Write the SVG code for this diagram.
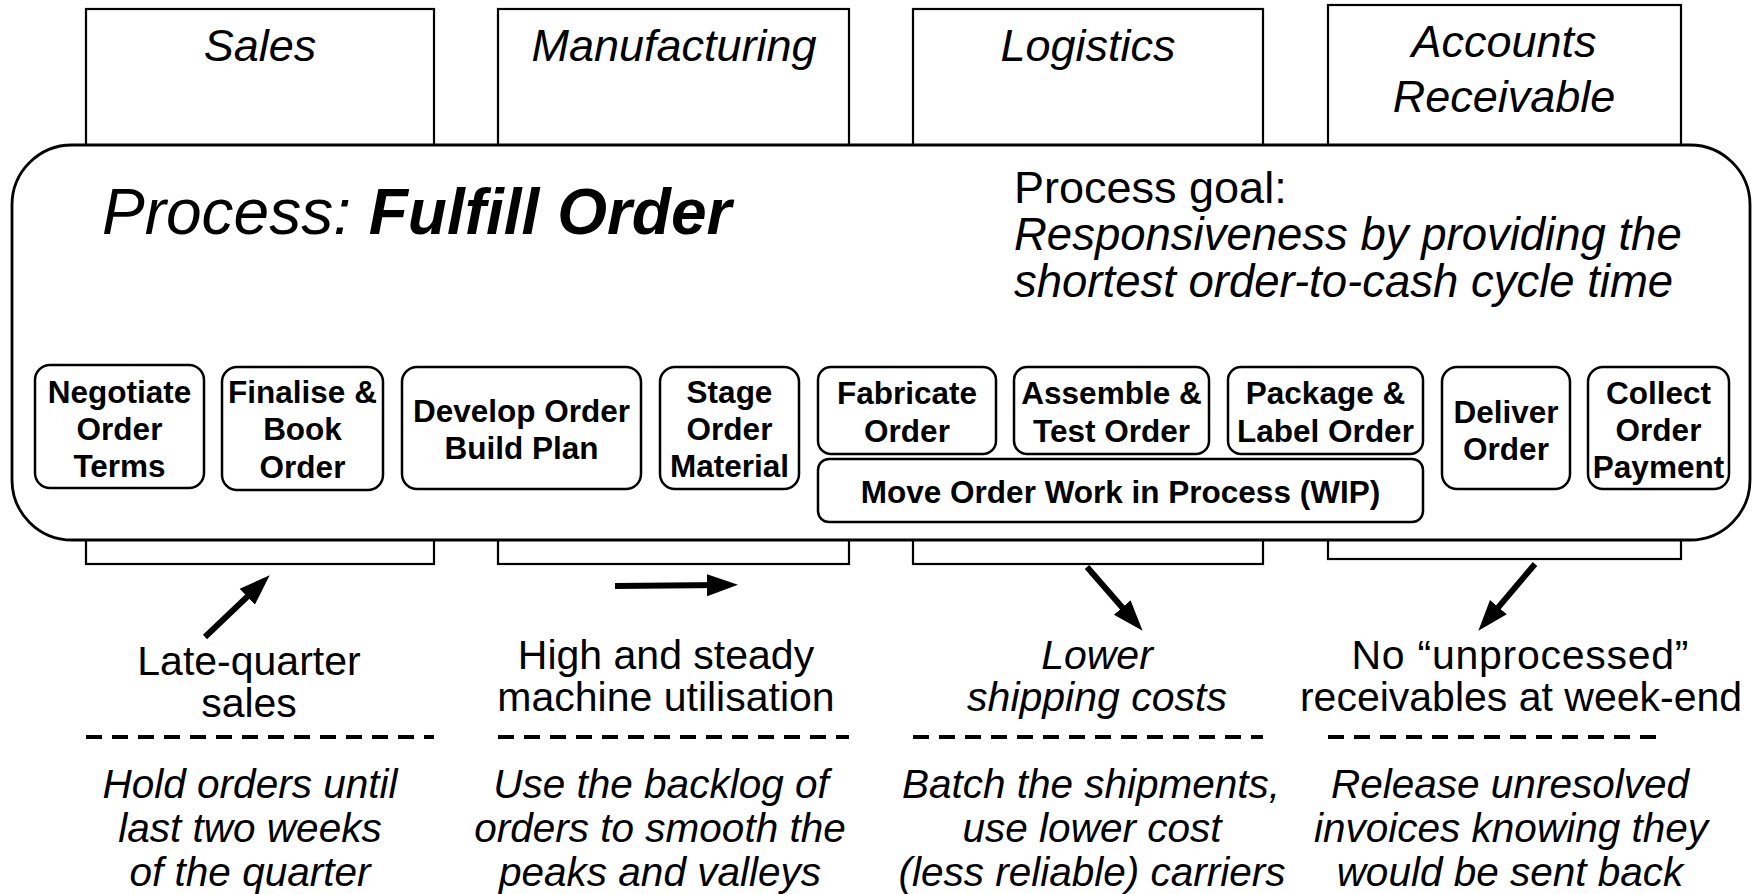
<svg xmlns="http://www.w3.org/2000/svg" width="1753" height="894" viewBox="0 0 1753 894">
<style>
text{font-family:"Liberation Sans",Arial,sans-serif;fill:#000}
.hdr{fill:#fff;stroke:#000;stroke-width:2.2}
.ht{font-size:45px;font-style:italic;text-anchor:middle}
.main{fill:#fff;stroke:#000;stroke-width:2.8}
.pb{fill:#fff;stroke:#000;stroke-width:2.5}
.pt{font-size:31.5px;font-weight:bold;text-anchor:middle}
.lbl{font-size:41px;text-anchor:middle}
.it{font-style:italic}
.act{font-size:40.5px;font-style:italic;text-anchor:middle}
.dash{stroke:#000;stroke-width:4;stroke-dasharray:16 10}
.arr{stroke:#000;stroke-width:6;fill:none;marker-end:url(#ah)}
</style>
<defs>
<marker id="ah" markerUnits="userSpaceOnUse" markerWidth="32" markerHeight="24" viewBox="0 0 32 24" refX="15" refY="12" orient="auto">
<path d="M0,1 L31,12 L0,23 z" fill="#000"/>
</marker>
</defs>
<g id="lane-sales"><rect class="hdr" x="86" y="9" width="348" height="555"/><text class="ht" x="260" y="61">Sales</text></g>
<g id="lane-manufacturing"><rect class="hdr" x="498" y="9" width="351" height="555"/><text class="ht" x="674" y="61">Manufacturing</text></g>
<g id="lane-logistics"><rect class="hdr" x="913" y="9" width="350" height="555"/><text class="ht" x="1088" y="61">Logistics</text></g>
<g id="lane-ar"><rect class="hdr" x="1328" y="5" width="353" height="554"/><text class="ht" x="1504" y="57">Accounts</text><text class="ht" x="1504" y="112">Receivable</text></g>
<g id="process">
<rect class="main" x="12" y="145" width="1738" height="395" rx="60" ry="60"/>
<text x="102" y="234" font-size="64" font-style="italic">Process: <tspan font-weight="bold">Fulfill Order</tspan></text>
<text x="1014" y="203" font-size="45">Process goal:</text>
<text x="1014" y="250" font-size="45.5" font-style="italic">Responsiveness by providing the</text>
<text x="1014" y="297" font-size="45.5" font-style="italic">shortest order-to-cash cycle time</text>
</g>
<g id="negotiate"><rect class="pb" x="35" y="365" width="169" height="123" rx="15"/><text class="pt" x="119.5" y="403">Negotiate</text><text class="pt" x="119.5" y="440">Order</text><text class="pt" x="119.5" y="477">Terms</text></g>
<g id="finalise"><rect class="pb" x="222" y="367" width="161" height="123" rx="15"/><text class="pt" x="302.5" y="403">Finalise &amp;</text><text class="pt" x="302.5" y="440">Book</text><text class="pt" x="302.5" y="478">Order</text></g>
<g id="develop"><rect class="pb" x="402" y="367" width="239" height="122" rx="15"/><text class="pt" x="521.5" y="422">Develop Order</text><text class="pt" x="521.5" y="459">Build Plan</text></g>
<g id="stage"><rect class="pb" x="660" y="367" width="139" height="122" rx="15"/><text class="pt" x="729.5" y="403">Stage</text><text class="pt" x="729.5" y="440">Order</text><text class="pt" x="729.5" y="477">Material</text></g>
<g id="fabricate"><rect class="pb" x="818" y="367" width="178" height="87" rx="13"/><text class="pt" x="907" y="404">Fabricate</text><text class="pt" x="907" y="442">Order</text></g>
<g id="assemble"><rect class="pb" x="1014" y="367" width="195" height="87" rx="13"/><text class="pt" x="1111.5" y="404">Assemble &amp;</text><text class="pt" x="1111.5" y="442">Test Order</text></g>
<g id="package"><rect class="pb" x="1228" y="367" width="195" height="87" rx="13"/><text class="pt" x="1325.5" y="404">Package &amp;</text><text class="pt" x="1325.5" y="442">Label Order</text></g>
<g id="move-wip"><rect class="pb" x="818" y="459" width="605" height="63" rx="11"/><text class="pt" x="1120.5" y="503">Move Order Work in Process (WIP)</text></g>
<g id="deliver"><rect class="pb" x="1442" y="367" width="128" height="122" rx="15"/><text class="pt" x="1506" y="423">Deliver</text><text class="pt" x="1506" y="460">Order</text></g>
<g id="collect"><rect class="pb" x="1588" y="367" width="141" height="122" rx="15"/><text class="pt" x="1658.5" y="404">Collect</text><text class="pt" x="1658.5" y="441">Order</text><text class="pt" x="1658.5" y="478">Payment</text></g>
<g id="connectors">
<line class="arr" x1="205" y1="637" x2="258.1" y2="586.4"/>
<line class="arr" x1="615" y1="586" x2="722" y2="585"/>
<line class="arr" x1="1087" y1="567" x2="1132.1" y2="618.7"/>
<line class="arr" x1="1535" y1="564" x2="1488.7" y2="618.6"/>
</g>
<g id="goal-sales"><text class="lbl" x="249" y="675">Late-quarter</text><text class="lbl" x="249" y="717">sales</text><line class="dash" x1="86" y1="737" x2="434" y2="737"/><text class="act" x="250" y="798">Hold orders until</text><text class="act" x="250" y="842">last two weeks</text><text class="act" x="250" y="886">of the quarter</text></g>
<g id="goal-manufacturing"><text class="lbl" x="666" y="669">High and steady</text><text class="lbl" x="666" y="711">machine utilisation</text><line class="dash" x1="498" y1="737" x2="849" y2="737"/><text class="act" x="661" y="798">Use the backlog of</text><text class="act" x="660" y="842">orders to smooth the</text><text class="act" x="660" y="886">peaks and valleys</text></g>
<g id="goal-logistics"><text class="lbl it" x="1097" y="669">Lower</text><text class="lbl it" x="1097" y="711">shipping costs</text><line class="dash" x1="913" y1="737" x2="1263" y2="737"/><text class="act" x="1091" y="798">Batch the shipments,</text><text class="act" x="1092" y="842">use lower cost</text><text class="act" x="1092" y="886">(less reliable) carriers</text></g>
<g id="goal-ar"><text class="lbl" x="1520" y="669" textLength="337" lengthAdjust="spacing">No “unprocessed”</text><text class="lbl" x="1521" y="711">receivables at week-end</text><line class="dash" x1="1328" y1="737" x2="1665" y2="737"/><text class="act" x="1510" y="798">Release unresolved</text><text class="act" x="1511" y="842">invoices knowing they</text><text class="act" x="1510" y="886">would be sent back</text></g>
</svg>
